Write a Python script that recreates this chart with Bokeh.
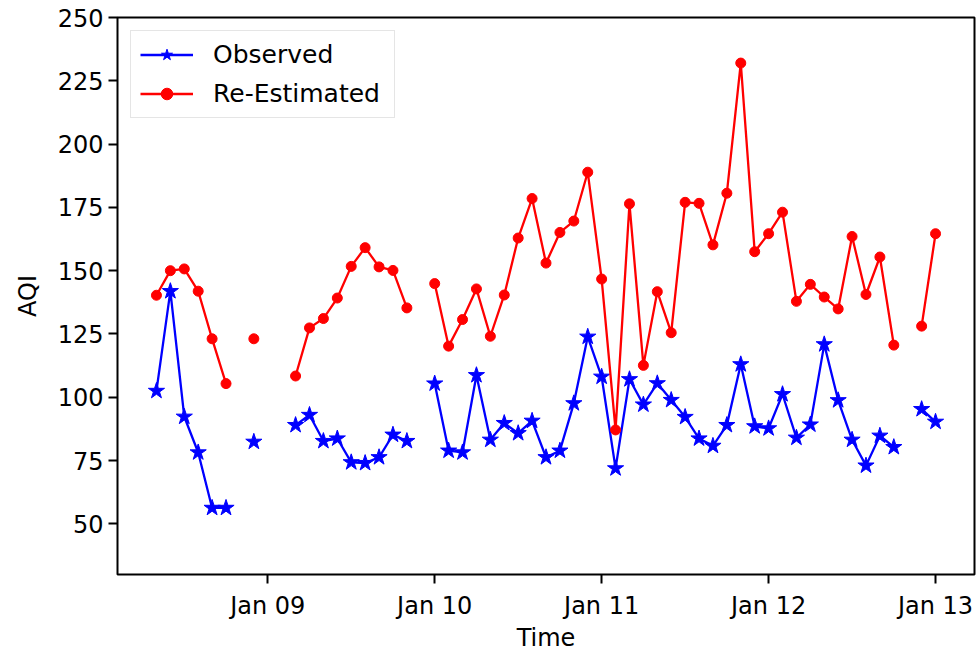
import numpy as np
import pandas as pd
from bokeh.plotting import figure
from bokeh.models import FixedTicker, DatetimeTickFormatter, Range1d, Legend
from bokeh.embed import file_html
from bokeh.resources import INLINE

nan = np.nan
start_time = "2019-01-08 08:00"
step = "2h"
observed = [102.5, 141.9, 92.3, 78.2, 56.3, 56.3, nan, 82.4, nan, nan,
            89.0, 93.0, 82.7, 83.7, 74.3, 74.0, 76.3, 85.2, 82.7, nan,
            105.4, 78.9, 78.2, 108.7, 83.2, 89.8, 85.8, 90.7, 76.3, 78.9,
            97.6, 123.9, 108.1, 71.9, 107.1, 97.1, 105.5, 98.9, 92.2, 83.7,
            80.8, 89.0, 113.0, 88.5, 87.7, 101.2, 84.0, 89.2, 120.9, 98.8,
            83.2, 73.0, 84.8, 80.3, nan, 95.3, 90.3]
reestimated = [140.3, 150.0, 150.7, 141.9, 123.1, 105.4, nan, 123.1, nan, nan,
               108.4, 127.4, 131.1, 139.2, 151.7, 159.1, 151.5, 150.1, 135.3, nan,
               144.9, 120.2, 130.7, 142.8, 124.1, 140.4, 162.9, 178.5, 153.0, 165.1,
               169.6, 188.9, 146.7, 87.1, 176.4, 112.6, 141.7, 125.5, 177.0, 176.6,
               160.2, 180.6, 232.0, 157.5, 164.6, 173.1, 137.9, 144.6, 139.6, 134.9,
               163.5, 140.6, 155.4, 120.6, nan, 128.1, 164.6]
x_tick_dates = ["2019-01-09", "2019-01-10", "2019-01-11", "2019-01-12", "2019-01-13"]
y_ticks = [50, 75, 100, 125, 150, 175, 200, 225, 250]
y_limits = (30, 250)

times = pd.date_range(start=start_time, periods=len(observed), freq=step)
span = times[-1] - times[0]
x_lo = times[0] - span * 0.05
x_hi = times[-1] + span * 0.05

FONT = "DejaVu Sans"
FS = "24px"

p = figure(width=977, height=656, x_axis_type="datetime",
           output_backend="svg", toolbar_location=None,
           x_range=Range1d(x_lo, x_hi), y_range=Range1d(*y_limits),
           min_border_left=117, min_border_right=3, min_border_top=17,
           min_border_bottom=82)

p.background_fill_color = "white"
p.border_fill_color = "white"
p.outline_line_color = "black"
p.outline_line_width = 2
p.xgrid.visible = False
p.ygrid.visible = False

blue = "#0000ff"
red = "#ff0000"

l1 = p.line(times, observed, line_color=blue, line_width=2.3)
s1 = p.scatter(times, observed, marker="star", size=17, fill_color=blue, line_color=blue)
l2 = p.line(times, reestimated, line_color=red, line_width=2.3)
s2 = p.scatter(times, reestimated, marker="circle", size=10, fill_color=red, line_color=red)

tick_ms = [pd.Timestamp(d).value / 1e6 for d in x_tick_dates]
p.xaxis.ticker = FixedTicker(ticks=tick_ms)
fmt = "%b %d"
p.xaxis.formatter = DatetimeTickFormatter(microseconds=fmt, milliseconds=fmt, seconds=fmt,
                                          minsec=fmt, minutes=fmt, hourmin=fmt, hours=fmt,
                                          days=fmt, months=fmt, years=fmt)
p.yaxis.ticker = FixedTicker(ticks=y_ticks)

for ax in (p.xaxis[0], p.yaxis[0]):
    ax.axis_line_color = None
    ax.major_tick_line_color = "black"
    ax.major_tick_line_width = 2
    ax.major_tick_out = 9
    ax.major_tick_in = 0
    ax.minor_tick_line_color = None
    ax.major_label_text_font = FONT
    ax.major_label_text_font_size = FS
    ax.major_label_text_color = "black"
    ax.axis_label_text_font = FONT
    ax.axis_label_text_font_size = FS
    ax.axis_label_text_font_style = "normal"
    ax.axis_label_text_color = "black"

p.xaxis.axis_label = "Time"
p.yaxis.axis_label = "AQI"
p.xaxis.major_label_standoff = 8
p.xaxis.axis_label_standoff = 1
p.yaxis.major_label_standoff = 5
p.yaxis.axis_label_standoff = 13

legend = Legend(items=[("Observed", [l1, s1]), ("Re-Estimated", [l2, s2])],
                location="top_left")
legend.margin = 13
legend.padding = 9
legend.spacing = 10
legend.glyph_width = 53
legend.glyph_height = 29
legend.label_height = 29
legend.label_width = 172
legend.label_standoff = 20
legend.label_text_font = FONT
legend.label_text_font_size = "25px"
legend.label_text_color = "black"
legend.border_line_color = "#cccccc"
legend.border_line_width = 1.5
legend.background_fill_alpha = 0.8
p.add_layout(legend, "center")

open("out.html", "w").write(file_html(p, INLINE))
